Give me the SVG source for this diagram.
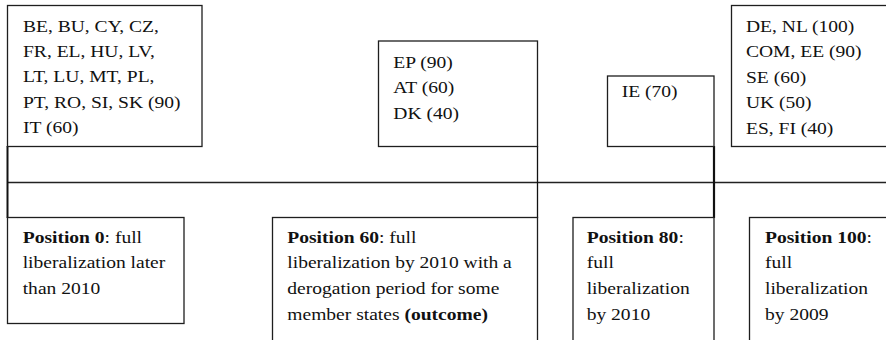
<svg xmlns="http://www.w3.org/2000/svg" width="886" height="340" viewBox="0 0 886 340">
<style>
  .box { fill: #ffffff; stroke: #1e1e1e; stroke-width: 1.3; }
  .t { font-family: 'Liberation Serif', 'Times New Roman', Times, 'DejaVu Serif', serif; font-size: 17px; fill: #111111; }
  .b { font-weight: bold; }
  .axis { stroke: #222222; stroke-width: 1.4; fill: none; }
  .link { stroke: #111111; fill: none; }
</style>
<rect width="886" height="340" fill="#ffffff"/>
<g id="connectors">
  <line class="axis" x1="7" y1="182.5" x2="886" y2="182.5"/>
  <line class="link" x1="7.5" y1="146" x2="7.5" y2="218" stroke-width="2"/>
  <line class="link" x1="537.5" y1="146" x2="537.5" y2="218" stroke-width="1.3"/>
  <line class="link" x1="714" y1="146" x2="714" y2="218" stroke-width="2.2"/>
</g>
<g id="node-group-0">
  <rect class="box" x="7.5" y="5.5" width="194.5" height="141"/>
  <text class="t" font-family="Liberation Serif" transform="translate(23 0) scale(1.15 1)">
    <tspan x="0" y="31.7">BE, BU, CY, CZ,</tspan>
    <tspan x="0" y="57.1">FR, EL, HU, LV,</tspan>
    <tspan x="0" y="82.5">LT, LU, MT, PL,</tspan>
    <tspan x="0" y="107.9">PT, RO, SI, SK (90)</tspan>
    <tspan x="0" y="133.3">IT (60)</tspan>
  </text>
</g>
<g id="node-group-60">
  <rect class="box" x="378.5" y="41" width="159" height="105.5"/>
  <text class="t" transform="translate(393.3 0) scale(1.15 1)">
    <tspan x="0" y="67.7">EP (90)</tspan>
    <tspan x="0" y="93.3">AT (60)</tspan>
    <tspan x="0" y="118.9">DK (40)</tspan>
  </text>
</g>
<g id="node-group-80">
  <rect class="box" x="607.5" y="76" width="106.5" height="70.5"/>
  <text class="t" transform="translate(621.7 0) scale(1.15 1)">
    <tspan x="0" y="96.7">IE (70)</tspan>
  </text>
</g>
<g id="node-group-100">
  <rect class="box" x="731.5" y="5.5" width="170" height="141"/>
  <text class="t" transform="translate(746 0) scale(1.15 1)">
    <tspan x="0" y="31.9">DE, NL (100)</tspan>
    <tspan x="0" y="57.4">COM, EE (90)</tspan>
    <tspan x="0" y="82.9">SE (60)</tspan>
    <tspan x="0" y="108.4">UK (50)</tspan>
    <tspan x="0" y="133.9">ES, FI (40)</tspan>
  </text>
</g>
<g id="node-position-0">
  <rect class="box" x="7.5" y="217.5" width="176.5" height="106"/>
  <text class="t" transform="translate(22.7 0) scale(1.15 1)">
    <tspan x="0" y="242.7"><tspan class="b">Position 0</tspan>: full</tspan>
    <tspan x="0" y="268.4">liberalization later</tspan>
    <tspan x="0" y="294.1">than 2010</tspan>
  </text>
</g>
<g id="node-position-60">
  <rect class="box" x="272.5" y="217.5" width="265" height="135"/>
  <text class="t" transform="translate(287.3 0) scale(1.15 1)">
    <tspan x="0" y="242.7"><tspan class="b">Position 60</tspan>: full</tspan>
    <tspan x="0" y="268.4">liberalization by 2010 with a</tspan>
    <tspan x="0" y="294.1">derogation period for some</tspan>
    <tspan x="0" y="319.8">member states <tspan class="b">(outcome)</tspan></tspan>
  </text>
</g>
<g id="node-position-80">
  <rect class="box" x="573" y="217.5" width="141" height="135"/>
  <text class="t" transform="translate(586.7 0) scale(1.15 1)">
    <tspan x="0" y="242.7"><tspan class="b">Position 80</tspan>:</tspan>
    <tspan x="0" y="268.4">full</tspan>
    <tspan x="0" y="294.1">liberalization</tspan>
    <tspan x="0" y="319.8">by 2010</tspan>
  </text>
</g>
<g id="node-position-100">
  <rect class="box" x="749.5" y="217.5" width="160" height="135"/>
  <text class="t" transform="translate(765 0) scale(1.15 1)">
    <tspan x="0" y="242.7"><tspan class="b">Position 100</tspan>:</tspan>
    <tspan x="0" y="268.4">full</tspan>
    <tspan x="0" y="294.1">liberalization</tspan>
    <tspan x="0" y="319.8">by 2009</tspan>
  </text>
</g>
</svg>
